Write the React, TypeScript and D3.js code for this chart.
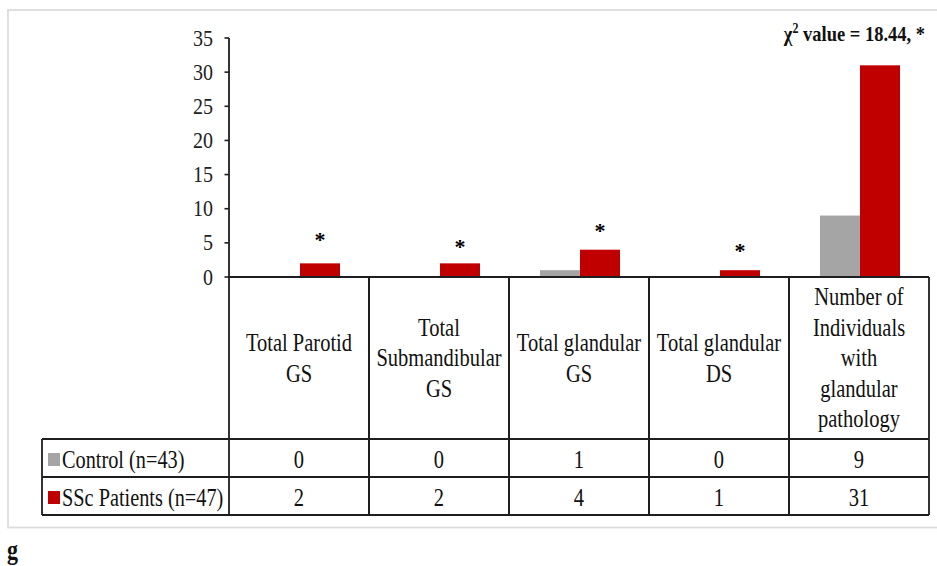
import React from "react";
import * as d3 from "d3";

const categories = ["Total Parotid GS", "Total Submandibular GS", "Total glandular GS", "Total glandular DS", "Number of Individuals with glandular pathology"];
const headerLines = [
  ["Total Parotid", "GS"],
  ["Total", "Submandibular", "GS"],
  ["Total glandular", "GS"],
  ["Total glandular", "DS"],
  ["Number of", "Individuals", "with", "glandular", "pathology"],
];
const seriesNames = ["Control (n=43)", "SSc Patients (n=47)"];
const controlValues = [0, 0, 1, 0, 9];
const sscValues = [2, 2, 4, 1, 31];
const starLevels: (number | null)[] = [5.9, 4.9, 7.2, 4.2, null];
const yTicks = [0, 5, 10, 15, 20, 25, 30, 35];
const annotation = "value = 18.44, *";

const COLORS = ["#a5a5a5", "#c00000"];
const FONT = "'Liberation Serif', 'Times New Roman', serif";
const LINE = "#1e1e1e";

export default function App() {
  const W = 937, H = 566;
  const axisX = 229, rightX = 929;
  const y0 = 277, yTop = 38;
  const headerBottom = 439, row1Bottom = 477, row2Bottom = 515;
  const legendLeft = 42;

  const x = d3.scaleBand<string>().domain(categories).range([axisX, rightX]).paddingInner(0).paddingOuter(0);
  const x1 = d3.scaleBand<string>().domain(seriesNames).range([31, 111]).padding(0);
  const y = d3.scaleLinear().domain([0, 35]).range([y0, yTop]);
  const series = [controlValues, sscValues];

  const vScale = 1.27;
  const lineGap = 30.5;
  const headerCenter = (y0 + headerBottom) / 2;

  return (
    <svg width={W} height={H} style={{ position: "fixed", left: 0, top: 0, background: "#fff" }} fontFamily={FONT}>
      <rect x={8} y={10} width={940} height={517.5} fill="#fff" stroke="#dcdcdc" strokeWidth={1.8} />

      {/* bars */}
      {categories.map((c, i) =>
        series.map((vals, s) => (
          <rect
            key={c + s}
            x={(x(c) as number) + (x1(seriesNames[s]) as number)}
            y={y(vals[i])}
            width={x1.bandwidth()}
            height={y0 - y(vals[i])}
            fill={COLORS[s]}
          />
        ))
      )}

      {/* stars */}
      {categories.map((c, i) =>
        starLevels[i] == null ? null : (
          <text
            key={"s" + c}
            x={(x(c) as number) + (x1(seriesNames[1]) as number) + x1.bandwidth() / 2}
            y={y(starLevels[i] as number) + 10}
            textAnchor="middle"
            fontSize={22}
            fontWeight="bold"
          >
            *
          </text>
        )
      )}

      {/* y axis ticks */}
      {yTicks.map((t) => (
        <g key={t}>
          <line x1={axisX - 4.5} x2={axisX} y1={y(t)} y2={y(t)} stroke={LINE} strokeWidth={1.6} />
          <text transform={`translate(${axisX - 16},${y(t) + 7.5}) scale(1,1.12)`} textAnchor="end" fontSize={20} fill="#222">
            {t}
          </text>
        </g>
      ))}

      {/* axis + table lines */}
      <line x1={axisX} x2={axisX} y1={yTop} y2={row2Bottom} stroke={LINE} strokeWidth={1.8} />
      <line x1={axisX} x2={rightX} y1={y0} y2={y0} stroke={LINE} strokeWidth={1.8} />
      {[headerBottom, row1Bottom, row2Bottom].map((yy) => (
        <line key={yy} x1={legendLeft} x2={rightX} y1={yy} y2={yy} stroke={LINE} strokeWidth={1.8} />
      ))}
      <line x1={legendLeft} x2={legendLeft} y1={headerBottom} y2={row2Bottom} stroke={LINE} strokeWidth={1.8} />
      {categories.map((c) => (
        <line key={"v" + c} x1={(x(c) as number) + x.bandwidth()} x2={(x(c) as number) + x.bandwidth()} y1={y0} y2={row2Bottom} stroke={LINE} strokeWidth={1.8} />
      ))}
      {categories.slice(1).map((c) => (
        <line key={"vl" + c} x1={x(c) as number} x2={x(c) as number} y1={y0} y2={row2Bottom} stroke={LINE} strokeWidth={1.8} />
      ))}

      {/* header text */}
      {categories.map((c, i) => {
        const lines = headerLines[i];
        const first = headerCenter - ((lines.length - 1) * lineGap) / 2 + 8.3;
        const cx = (x(c) as number) + x.bandwidth() / 2;
        return lines.map((ln, j) => (
          <text
            key={c + j}
            transform={`translate(${cx},${first + j * lineGap}) scale(1,${vScale})`}
            textAnchor="middle"
            fontSize={20.5}
            fill="#111"
          >
            {ln}
          </text>
        ));
      })}

      {/* legend rows */}
      {seriesNames.map((s, si) => {
        const top = si === 0 ? headerBottom : row1Bottom;
        const base = top + 28.5;
        return (
          <g key={s}>
            <rect x={48} y={top + 14} width={12} height={13} fill={COLORS[si]} />
            <text transform={`translate(62,${base}) scale(1,1.22)`} fontSize={20.3} fill="#111">
              {s}
            </text>
            {categories.map((c, i) => (
              <text
                key={c}
                transform={`translate(${(x(c) as number) + x.bandwidth() / 2},${base}) scale(1,${vScale})`}
                textAnchor="middle"
                fontSize={20.5}
                fill="#111"
              >
                {series[si][i]}
              </text>
            ))}
          </g>
        );
      })}

      {/* chi-square annotation */}
      <text transform="translate(925,41) scale(1,1.15)" textAnchor="end" fontSize={18.5} fontWeight="bold" fill="#111">
        χ<tspan dy={-7} fontSize={12}>2</tspan>
        <tspan dy={7}> {annotation}</tspan>
      </text>

      {/* panel letter */}
      <text transform="translate(7,559) scale(1,1.2)" fontSize={22} fontWeight="bold" fill="#111">
        g
      </text>
    </svg>
  );
}
